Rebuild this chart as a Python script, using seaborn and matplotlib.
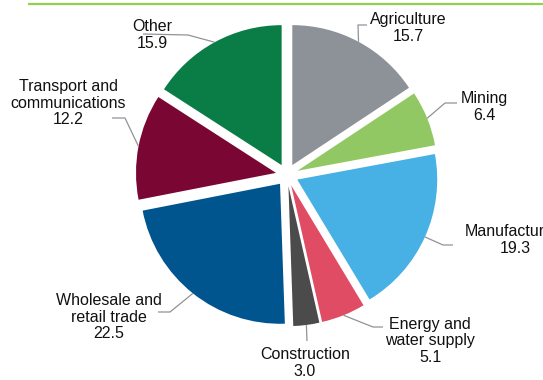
import numpy as np
import matplotlib
matplotlib.use("Agg")
import matplotlib.pyplot as plt
import seaborn as sns

# Sector shares (%)
sectors = ["Agriculture", "Mining", "Manufacturing", "Energy and\nwater supply",
           "Construction", "Wholesale and\nretail trade", "Transport and\ncommunications", "Other"]
shares = [15.7, 6.4, 19.3, 5.1, 3.0, 22.5, 12.2, 15.9]
share_labels = ["15.7", "6.4", "19.3", "5.1", "3.0", "22.5", "12.2", "15.9"]

colors = sns.color_palette(["#8C9298", "#92C864", "#47B0E5", "#E04C64",
                            "#4B4B4B", "#00558F", "#7A0633", "#0A7D46"])

sns.set_theme(style="white")
plt.rcParams["font.family"] = ["Liberation Sans", "DejaVu Sans"]

W, H = 543, 380
CX, CY, R = 287, 175, 140  # pie centre and radius in pixels


def px(x, y):
    """Pixel position (from top-left) to data coordinates."""
    return (x - CX) / R, (CY - y) / R


fig = plt.figure(figsize=(W / 100, H / 100), dpi=100)
ax = fig.add_axes([0, 0, 1, 1])

wedges, _ = ax.pie(shares, colors=colors, startangle=90, counterclock=False,
                   explode=[0.08] * len(shares), radius=1,
                   wedgeprops=dict(linewidth=0))

x0, y0 = px(0, H)
x1, y1 = px(W, 0)
ax.set_xlim(x0, x1)
ax.set_ylim(y0, y1)
ax.axis("off")

# label block centres and leader-line bends (pixels)
label_pos = [(408, 28), (484, 107), (515, 240), (430, 341),
             (305, 363), (109, 317), (68, 103), (152, 35)]
leader_pts = [
    [(358, 25), (367, 25)],
    [(445, 103), (457, 103)],
    [(443, 245), (453, 245)],
    [(373, 327), (383, 327)],
    [(307, 341)],
    [(170, 312), (158, 312)],
    [(125, 118), (112, 118)],
    [(188, 35), (143, 34)],
]

for w, name, val, pos, pts in zip(wedges, sectors, share_labels, label_pos, leader_pts):
    mid = np.deg2rad((w.theta1 + w.theta2) / 2)
    cx, cy = w.center
    start = (cx + w.r * np.cos(mid), cy + w.r * np.sin(mid))
    path = [start] + [px(*p) for p in pts]
    xs, ys = zip(*path)
    ax.plot(xs, ys, color="#8E9399", lw=0.9, solid_capstyle="butt")
    tx, ty = px(*pos)
    ax.text(tx, ty, f"{name}\n{val}", ha="center", va="center",
            multialignment="center", fontsize=11.5, color="#111111",
            linespacing=1.12)

# thin rule across the top
ax.plot([px(28, 0)[0], px(W, 0)[0]], [px(0, 3.5)[1]] * 2, color="#92D050",
        lw=1.6, solid_capstyle="butt", clip_on=False)

fig.savefig("out.png", dpi=100)
